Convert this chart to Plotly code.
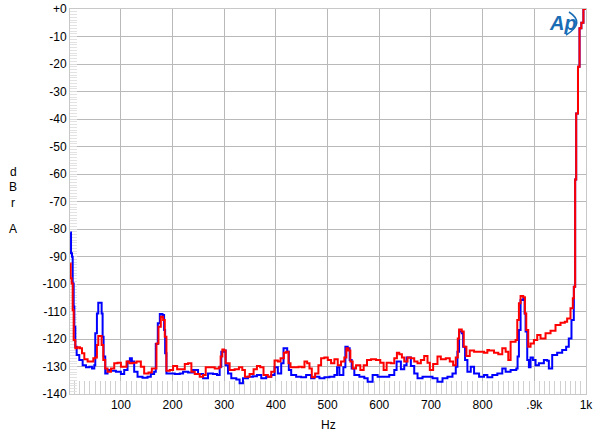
import plotly.graph_objects as go

# ---- data ----
blue_hz = [2, 3.5, 5.4, 6.7, 8.6, 9.9, 11.8, 14.4, 19.5, 26, 32.4, 38.8, 44, 48.5, 50.4, 53.6, 56.2, 60.7,
           62.7, 64.6, 66.5, 69.7, 74.2, 80.7, 90.3, 100, 106.4, 112.8, 117.4, 121.2, 125.7, 132.2, 141.8,
           151.5, 157.9, 164.3, 167.5, 171.4, 175.3, 180.4, 183.6, 185.6, 188.1,
           194.6, 204.3, 213.9, 220.3, 230, 239.6, 249.3, 259, 268.6, 278.3, 286, 291.1, 294.3, 298.8,
           302.7, 307.2, 313.6, 323.3, 329.7, 336.2, 345.8, 355.5, 363.2, 371.6, 381.2, 390.9, 397.3,
           403.7, 410.2, 414.7, 418.5, 421.8, 425, 429.5, 439.1, 448.8, 458.4, 468.1, 474.5, 484.2,
           493.8, 503.5, 513.1, 518.3, 522.8, 530.5, 534.4, 538.9, 542.7, 546.6, 551.7, 561.4, 571,
           577.5, 587.1, 596.8, 606.4, 612.9, 619.3, 629, 633.5, 637.3, 641.8, 648.3, 652.8, 656.6,
           661.1, 667.6, 674, 683.7, 693.3, 703, 712.6, 722.3, 731.9, 741.6, 748, 751.2, 754.4, 759.6,
           762.2, 766, 770.5, 777, 783.4, 793.1, 802.7, 809.1, 812.3, 818.7, 828.4, 838, 844.5, 854.1,
           865.1, 867.6, 870.2, 873.4, 878.6, 881.2, 883.1, 886.3, 889.5, 892.7, 897.2, 902.4, 908.8,
           918.5, 924.9, 928.1, 934.6, 944.2, 953.9, 961.6, 966.7, 971.9, 976.4,
           976.5, 978.5, 979, 980.5, 981, 984, 984.5, 987, 987.5, 991, 995, 998]
blue_db = [-81.3, -88.8, -90.1, -99.8, -108.2, -115.5, -122.8, -125.8, -127.6, -129.5, -130.3, -130.1,
           -130.7, -129.5, -117.9, -110.7, -106.8, -106.8, -110.7, -119.2, -126.4, -132.5, -131.3, -131.5,
           -131.9, -132.7, -131.3, -128.2, -127.0, -128.2, -131.9, -133.7, -134.1, -133.7, -132.7, -131.9,
           -121.8, -114.3, -110.9, -111.3, -116.7, -125.2, -132.5,
           -132.5, -132.7, -132.5, -131.9, -132.2, -131.3, -132.7, -134.3, -132.5, -132.7, -133.1, -130.1,
           -124.6, -124.2, -129.5, -132.5, -134.3, -134.7, -136.1, -134.3, -133.7, -133.5, -133.1, -134.3,
           -133.7, -133.1, -130.3, -132.5, -128.8, -123.4, -123.4, -124.6, -131.3, -133.1, -133.7, -133.9,
           -133.1, -134.3, -133.7, -134.3, -133.9, -133.7, -133.1, -130.3, -133.1, -130.3, -122.8, -123.4,
           -127.6, -130.7, -133.1, -133.7, -134.3, -135.5, -133.1, -133.7, -133.7, -133.7, -133.1, -131.3,
           -128.2, -128.2, -131.0, -129.5, -126.7, -126.7, -129.8, -132.5, -134.3, -133.7, -133.7, -134.3,
           -135.5, -134.3, -133.7, -132.5, -130.1, -124.6, -117.3, -117.9, -122.8, -127.6, -131.9, -130.1,
           -132.5, -133.7, -133.1, -133.9, -133.9, -133.1, -132.5, -130.7, -131.9, -131.3, -130.7, -126.4,
           -116.7, -105.8, -105.2, -110.7, -117.3, -127.6, -130.3, -126.7, -127.6, -129.5, -128.8, -127.6,
           -127.9, -130.7, -125.8, -125.0, -124.0, -122.8, -119.8, -113.1, -108.2,
           -101, -101, -62, -62, -38, -38, -21, -21, -7, -5, 0, 1]

red_hz = [2, 2.8, 4.7, 6.7, 8.6, 11.8, 16.3, 20.8, 24.7, 29.2, 35.6, 42.1, 46.6, 50.4, 53.6, 56.2, 60.1,
          62.7, 65.9, 69.7, 74.2, 80.7, 87.1, 93.5, 100, 104.5, 110.9, 116.1, 122.5, 130.2, 138.6, 145,
          153.4, 159.8, 165, 168.8, 172.7, 177.2, 181.7, 184.9, 188.1,
          194.6, 201, 208.8, 217.1, 223.6, 230, 236.4, 242.9, 252.5, 259, 264.1, 271.8, 281.5, 289.8,
          293, 296.3, 299.5, 302.7, 310.4, 320.1, 328.4, 334.9, 340, 349, 356.8, 363.2, 369.6, 376,
          384.4, 390.9, 397.3, 403.7,
          408.9, 415.3, 419.8, 424.3, 428.2, 435.9, 443.6, 450.1, 455.2, 460.4, 464.9, 469.4, 475.8,
          482.2, 487.4, 493.8, 500.3, 506.7, 513.1, 519.6, 526, 532.4, 536.3, 540.2, 544, 548.5, 555,
          563.3, 569.8, 576.2, 584, 593.6, 601.9, 608.4,
          614.2, 622.5, 629, 634.1, 638.6, 643.8, 648.3, 654.7, 661.1, 667.6, 674, 680.4, 686.9, 693.3,
          697.8, 704.2, 712.6, 719, 728.7, 736.4, 742.9, 748, 751.9, 754.4, 759.6, 763.4, 768.6, 775,
          783.4, 793.1, 802.7, 809.1,
          812.3, 822, 830.3, 838, 844.5, 849.6, 854.1, 863.8, 867, 870.2, 873.4, 878.6, 881.8, 884.4,
          888.2, 892.7, 899.2, 905.6, 912, 921.7, 931.4, 941, 950.7, 959, 963.5, 970, 974.5,
          976.5, 978.5, 979, 980.5, 981, 984, 984.5, 987, 987.5, 991, 995, 998]
red_db = [-92.5, -97.9, -99.8, -109.5, -120.4, -123.4, -123.0, -123.4, -125.2, -127.4, -128.2, -128.2,
          -127.0, -126.7, -122.2, -118.9, -118.9, -122.2, -127.6, -130.7, -131.9, -130.7, -128.8, -128.6,
          -130.1, -130.1, -128.2, -128.8, -128.6, -128.2, -130.1, -132.5, -132.2, -130.7, -130.7, -121.6,
          -115.5, -111.9, -113.1, -119.2, -131.5,
          -131.3, -129.8, -131.0, -131.0, -129.1, -128.8, -131.9, -132.7, -133.7, -133.1, -130.3, -130.3,
          -130.7, -130.3, -126.4, -123.8, -124.2, -128.8, -131.3, -131.0, -130.3, -131.3, -133.7, -132.7,
          -131.0, -129.8, -130.3, -133.1, -133.7, -131.9, -127.8, -128.2,
          -127.0, -125.0, -124.6, -128.8, -130.3, -130.3, -130.1, -130.3, -128.2, -128.8, -130.7, -133.9,
          -132.5, -129.5, -127.0, -126.7, -127.6, -128.8, -127.4, -129.5, -128.2, -126.7, -123.4, -124.2,
          -128.2, -130.7, -129.5, -131.3, -129.5, -127.6, -127.4, -127.6, -128.6, -131.3,
          -128.6, -128.8, -127.0, -125.0, -125.5, -126.7, -128.2, -126.7, -127.0, -128.2, -128.8, -127.6,
          -126.2, -128.6, -131.3, -129.1, -126.4, -127.4, -127.0, -128.2, -129.5, -126.7, -119.8, -116.5,
          -117.3, -122.8, -126.2, -124.2, -124.6, -124.6, -125.0, -124.0,
          -124.2, -125.0, -125.5, -123.4, -124.6, -127.6, -121.0, -120.4, -113.1, -107.0, -104.4, -104.8,
          -110.7, -116.7, -122.8, -121.6, -120.4, -118.5, -119.8, -117.9, -117.0, -114.9, -114.1, -113.7,
          -112.5, -108.8, -105.2,
          -101, -101, -62, -62, -38, -38, -21, -21, -7, -5, 0, 1]

x_tickvals = [100, 200, 300, 400, 500, 600, 700, 800, 900, 1000]
x_ticktext = ["100", "200", "300", "400", "500", "600", "700", "800", ".9k", "1k"]
y_tickvals = [0, -10, -20, -30, -40, -50, -60, -70, -80, -90, -100, -110, -120, -130, -140]
y_ticktext = ["+0", "-10", "-20", "-30", "-40", "-50", "-60", "-70", "-80", "-90", "-100", "-110",
              "-120", "-130", "-140"]

# ---- figure ----
FONT = "Liberation Sans, Arial, sans-serif"
W, H = 600, 437
L, R, T, B = 70, 14, 9, 43
PW, PH = W - L - R, H - T - B


def px(x):  # window pixel -> paper x
    return (x - L) / PW


def py(y):  # window pixel -> paper y
    return (H - B - y) / PH


fig = go.Figure()
fig.add_trace(go.Scatter(x=blue_hz, y=blue_db, mode="lines", line_shape="hv",
                         line=dict(color="#0000ff", width=2), showlegend=False, hoverinfo="skip"))
fig.add_trace(go.Scatter(x=red_hz, y=red_db, mode="lines", line_shape="hv",
                         line=dict(color="#ff0000", width=2), showlegend=False, hoverinfo="skip"))

fig.update_layout(
    width=W, height=H,
    margin=dict(l=L, r=R, t=T, b=B, autoexpand=False),
    paper_bgcolor="white", plot_bgcolor="white",
    font=dict(family=FONT, size=12, color="black"),
    xaxis=dict(range=[1.5, 1000], tickmode="array", tickvals=x_tickvals, ticktext=x_ticktext,
               automargin=False, layer="below traces",
               showgrid=True, gridcolor="#b9b9b9", gridwidth=1, zeroline=False,
               showline=True, mirror=True, linecolor="#c8c8c8", linewidth=1,
               ticks="inside", ticklen=13, tickcolor="#d0d0d0",
               minor=dict(dtick=10, tick0=0, ticks="inside", ticklen=13, tickcolor="#d0d0d0",
                          showgrid=False),
               tickfont=dict(family=FONT, size=12, color="black")),
    yaxis=dict(range=[-140, 0], tickmode="array", tickvals=y_tickvals, ticktext=y_ticktext,
               automargin=False, layer="below traces",
               showgrid=True, gridcolor="#b9b9b9", gridwidth=1, zeroline=False,
               showline=True, mirror=True, linecolor="#c8c8c8", linewidth=1,
               ticks="inside", ticklen=7, tickcolor="#dcdcdc",
               minor=dict(dtick=1, tick0=0, ticks="inside", ticklen=7, tickcolor="#e2e2e2",
                          showgrid=False),
               tickfont=dict(family=FONT, size=12, color="black")),
)

ann = []
ann.append(dict(text="Hz", x=px(328), y=py(425), xref="paper", yref="paper",
                xanchor="center", yanchor="middle",
                showarrow=False, font=dict(family=FONT, size=12)))
for ch, yy in [("d", 172), ("B", 187), ("r", 203), ("A", 229)]:
    ann.append(dict(text=ch, x=px(13), y=py(yy), xref="paper", yref="paper",
                    xanchor="center", yanchor="middle",
                    showarrow=False, font=dict(family=FONT, size=12)))
ann.append(dict(text="<i><b>Ap</b></i>", x=px(563), y=py(23), xref="paper", yref="paper",
                xanchor="center", yanchor="middle",
                showarrow=False, font=dict(family=FONT, size=20, color="#1a6db5")))
fig.update_layout(annotations=ann)

fig.add_shape(type="path", xref="paper", yref="paper",
              path=f"M {px(569)},{py(12)} Q {px(586)},{py(23)} {px(566)},{py(35)}",
              line=dict(color="#1a6db5", width=1.6))

# remove the browser's default 8 px body margin so the figure sits at the window corner
fig.write_html("out.html", config={"displayModeBar": False},
               post_script="document.body.style.margin='0px';")
